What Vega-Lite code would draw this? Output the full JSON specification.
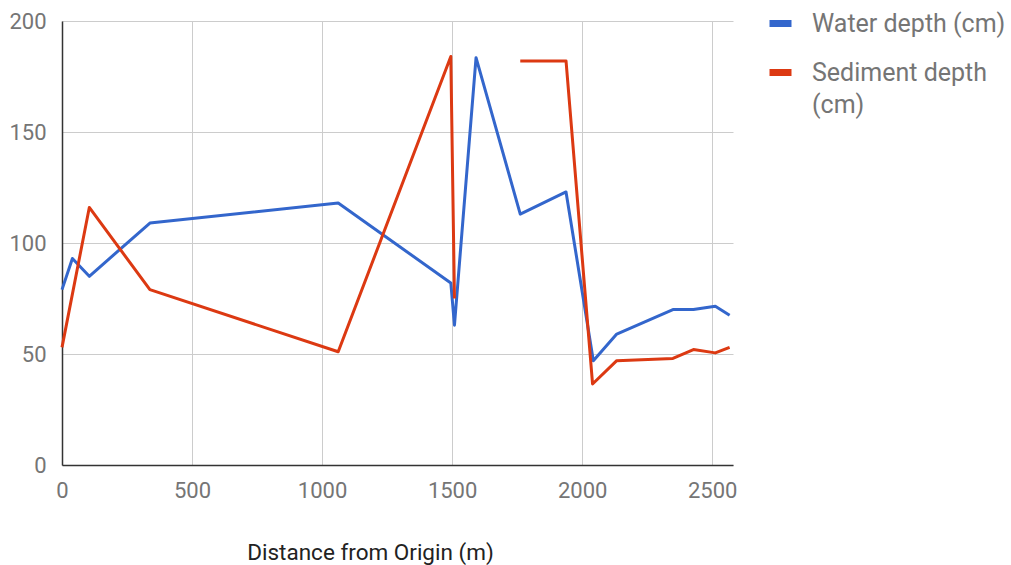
{
  "$schema": "https://vega.github.io/schema/vega-lite/v6.json",
  "width": 671,
  "height": 444,
  "autosize": {"type": "none"},
  "padding": {"left": 62, "top": 21, "right": 278, "bottom": 100},
  "background": "white",
  "config": {
    "font": "Roboto",
    "view": {"stroke": null},
    "style": {"guide-label": {"lineHeight": 32}}
  },
  "data": {
    "values": [
      {"d": 0, "s": "Water depth (cm)", "v": 79},
      {"d": 40, "s": "Water depth (cm)", "v": 93},
      {"d": 105, "s": "Water depth (cm)", "v": 85},
      {"d": 338, "s": "Water depth (cm)", "v": 109},
      {"d": 1062, "s": "Water depth (cm)", "v": 118},
      {"d": 1495, "s": "Water depth (cm)", "v": 82},
      {"d": 1509, "s": "Water depth (cm)", "v": 63},
      {"d": 1592, "s": "Water depth (cm)", "v": 183.5},
      {"d": 1762, "s": "Water depth (cm)", "v": 113},
      {"d": 1938, "s": "Water depth (cm)", "v": 123},
      {"d": 2043, "s": "Water depth (cm)", "v": 47},
      {"d": 2133, "s": "Water depth (cm)", "v": 59},
      {"d": 2349, "s": "Water depth (cm)", "v": 70},
      {"d": 2428, "s": "Water depth (cm)", "v": 70},
      {"d": 2512, "s": "Water depth (cm)", "v": 71.5},
      {"d": 2567, "s": "Water depth (cm)", "v": 67.5},
      {"d": 0, "s": "Sediment depth (cm)", "v": 53},
      {"d": 105, "s": "Sediment depth (cm)", "v": 116},
      {"d": 338, "s": "Sediment depth (cm)", "v": 79},
      {"d": 1062, "s": "Sediment depth (cm)", "v": 51},
      {"d": 1495, "s": "Sediment depth (cm)", "v": 184},
      {"d": 1509, "s": "Sediment depth (cm)", "v": 75},
      {"d": 1592, "s": "Sediment depth (cm)", "v": null},
      {"d": 1762, "s": "Sediment depth (cm)", "v": 182},
      {"d": 1938, "s": "Sediment depth (cm)", "v": 182},
      {"d": 2040, "s": "Sediment depth (cm)", "v": 36.5},
      {"d": 2133, "s": "Sediment depth (cm)", "v": 47},
      {"d": 2349, "s": "Sediment depth (cm)", "v": 48},
      {"d": 2428, "s": "Sediment depth (cm)", "v": 52},
      {"d": 2512, "s": "Sediment depth (cm)", "v": 50.5},
      {"d": 2567, "s": "Sediment depth (cm)", "v": 53}
    ]
  },
  "mark": {"type": "line", "strokeWidth": 3, "invalid": "break-paths-show-domains", "strokeJoin": "round"},
  "encoding": {
    "x": {
      "field": "d",
      "type": "quantitative",
      "scale": {"domain": [0, 2580], "nice": false, "zero": false},
      "axis": {
        "title": "Distance from Origin (m)",
        "values": [0, 500, 1000, 1500, 2000, 2500],
        "format": "d",
        "ticks": false,
        "labelPadding": 15,
        "labelFontSize": 22,
        "labelColor": "#757575",
        "labelOverlap": false,
        "labelFlush": false,
        "titleFontSize": 22.5,
        "titleFontWeight": "normal",
        "titleColor": "#222222",
        "titlePadding": 40,
        "titleX": 308,
        "domainColor": "#333333",
        "domainWidth": 1.5,
        "gridColor": "#cccccc",
        "gridWidth": 1
      }
    },
    "y": {
      "field": "v",
      "type": "quantitative",
      "scale": {"domain": [0, 200], "nice": false},
      "axis": {
        "title": null,
        "values": [0, 50, 100, 150, 200],
        "ticks": false,
        "labelPadding": 16,
        "labelFontSize": 22,
        "labelColor": "#757575",
        "labelOverlap": false,
        "labelFlush": false,
        "domainColor": "#333333",
        "domainWidth": 1.5,
        "gridColor": "#cccccc",
        "gridWidth": 1
      }
    },
    "color": {
      "field": "s",
      "type": "nominal",
      "scale": {"domain": ["Water depth (cm)", "Sediment depth (cm)"], "range": ["#3366CC", "#DC3912"]},
      "legend": {
        "title": null,
        "orient": "none",
        "legendX": 704,
        "legendY": -12,
        "labelFontSize": 25,
        "labelColor": "#757575",
        "labelOffset": 17,
        "symbolType": "stroke",
        "symbolSize": 484,
        "symbolStrokeWidth": 7,
        "rowPadding": 20,
        "labelLimit": 300,
        "labelExpr": "datum.label == 'Sediment depth (cm)' ? ['Sediment depth', '(cm)'] : datum.label"
      }
    }
  }
}
